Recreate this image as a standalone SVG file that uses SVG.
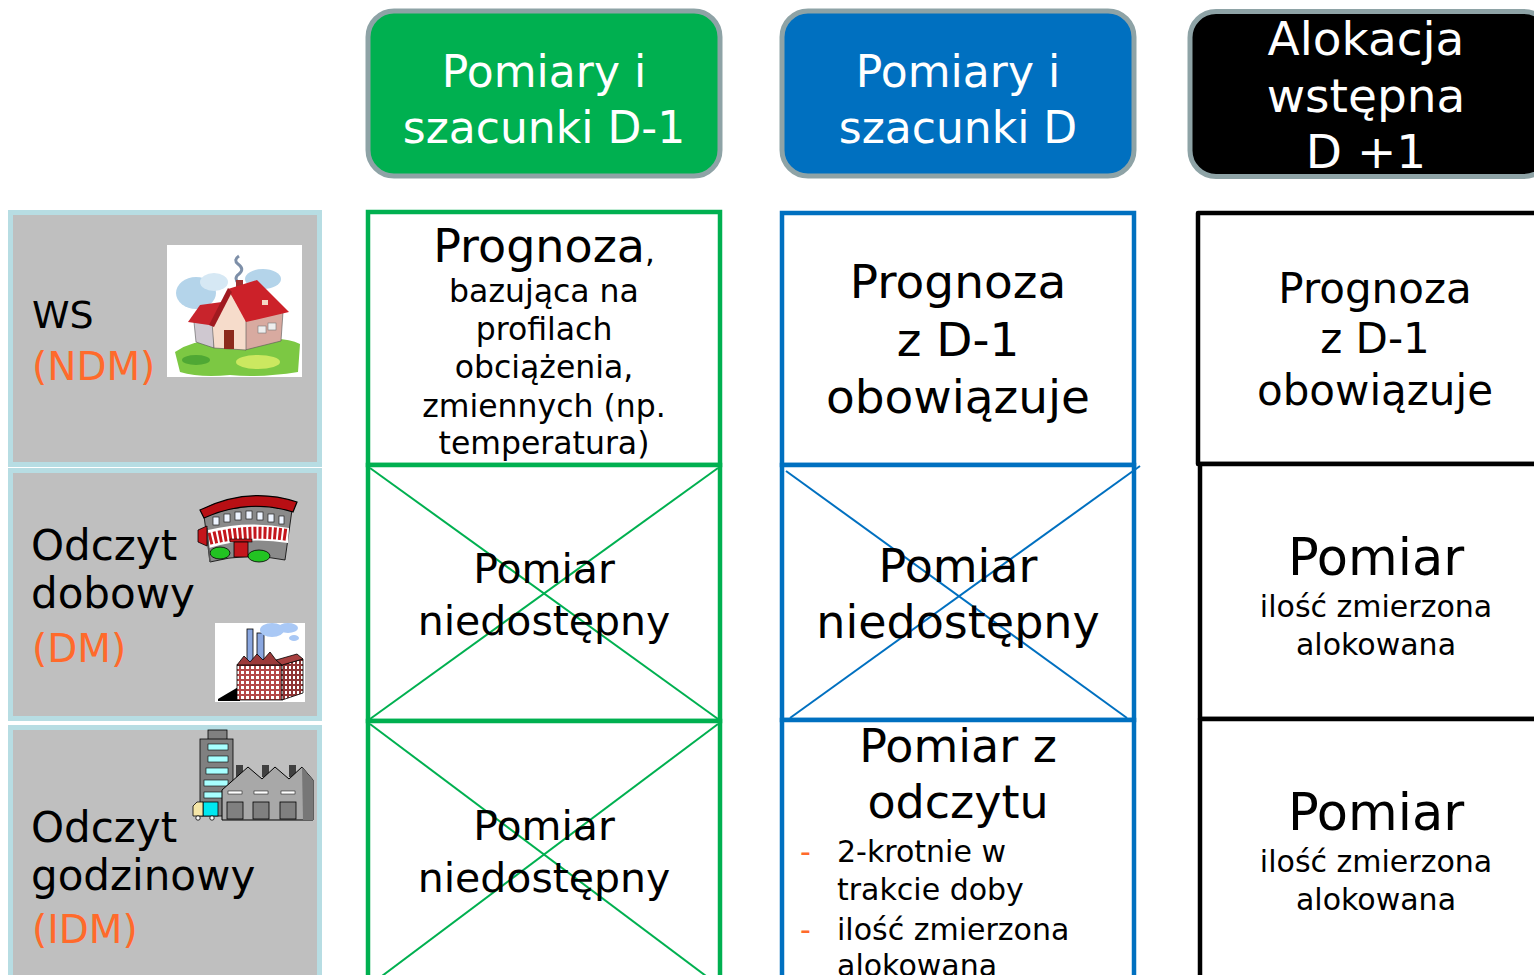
<svg xmlns="http://www.w3.org/2000/svg" width="1534" height="975" viewBox="0 0 1534 975">
<defs>
<style>
text{font-family:"DejaVu Sans","Liberation Sans",sans-serif;fill:#000}
.c{text-anchor:middle}
.w{fill:#fff}
.or{fill:#ff6a2b}
.hdr{stroke:#8ea3a6;stroke-width:5}
.lbl{fill:#bfbfbf;stroke:#b7dde3;stroke-width:5}
.gc{fill:#fff;stroke:#00b050;stroke-width:4.5}
.bc{fill:#fff;stroke:#0070c0;stroke-width:4.5}
.kc{fill:#fff;stroke:#000;stroke-width:4.5;stroke-linejoin:round}
.gx{stroke:#00b050;stroke-width:2;fill:none}
.bx{stroke:#0070c0;stroke-width:2;fill:none}
.ol{stroke:#000;stroke-width:0.8}
</style>
<pattern id="win" width="5" height="5" patternUnits="userSpaceOnUse"><rect width="5" height="5" fill="#b54848"/><rect x="1" y="1" width="3" height="3" fill="#fff"/></pattern>
<pattern id="win2" width="4" height="5" patternUnits="userSpaceOnUse"><rect width="4" height="5" fill="#8f3434"/><rect x="1" y="1" width="2" height="3" fill="#fff"/></pattern>
</defs>
<rect width="1534" height="975" fill="#fff"/>

<!-- headers -->
<g id="hdr-d1">
<rect x="368" y="11" width="352" height="165" rx="26" fill="#00b050" class="hdr"/>
<text class="c w" x="544" y="87" font-size="44">Pomiary i</text>
<text class="c w" x="544" y="143" font-size="44">szacunki D-1</text>
</g>
<g id="hdr-d">
<rect x="782" y="11" width="352" height="165" rx="26" fill="#0070c0" class="hdr"/>
<text class="c w" x="958" y="87" font-size="44">Pomiary i</text>
<text class="c w" x="958" y="143" font-size="44">szacunki D</text>
</g>
<g id="hdr-d1plus">
<rect x="1190" y="11.5" width="360" height="165" rx="26" fill="#000" class="hdr"/>
<text class="c w" x="1366" y="55" font-size="47">Alokacja</text>
<text class="c w" x="1366" y="112" font-size="47">wstępna</text>
<text class="c w" x="1366" y="168" font-size="47">D +1</text>
</g>

<!-- row labels -->
<g id="lbl-ndm">
<rect x="10.5" y="212.5" width="309" height="252" class="lbl"/>
<text x="32" y="328" font-size="38">WS</text>
<text class="or" x="32" y="380" font-size="39">(NDM)</text>
<g id="icon-house">
<rect x="167" y="245" width="135" height="132" fill="#fff"/>
<ellipse cx="196" cy="293" rx="20" ry="16" fill="#b4d4ea"/>
<ellipse cx="214" cy="282" rx="14" ry="9" fill="#d6e8f4"/>
<ellipse cx="263" cy="279" rx="18" ry="10" fill="#b4d4ea"/>
<path d="M239 284 q-6 -6 0 -10 q6 -5 -1 -10 q-5 -4 1 -8" stroke="#7d8fa8" stroke-width="3" fill="none"/>
<path d="M175 352 Q200 334 240 344 Q280 334 300 344 L298 372 Q260 378 230 375 Q200 378 180 372 Z" fill="#7cc843"/>
<ellipse cx="258" cy="362" rx="22" ry="7" fill="#cbe860"/>
<ellipse cx="196" cy="360" rx="14" ry="5" fill="#4fa834"/>
<rect x="236" y="280" width="7" height="14" fill="#a33030"/>
<polygon points="194,322 214,324 214,348 196,342" fill="#cfc8d0" stroke="#555" stroke-width="0.6"/>
<polygon points="188,322 200,305 222,302 216,326" fill="#c8242c"/>
<polygon points="245,320 283,312 281,341 245,350" fill="#d8aaa0" stroke="#555" stroke-width="0.6"/>
<polygon points="212,322 230,292 246,318 246,350 214,348" fill="#f6dccb" stroke="#555" stroke-width="0.6"/>
<polygon points="228,289 257,280 289,312 246,322" fill="#cc2129"/>
<polygon points="209,325 228,288 232,292 214,327" fill="#a01a20"/>
<rect x="224" y="330" width="10" height="19" fill="#8c2a1c"/>
<rect x="258" y="326" width="8" height="7" fill="#eee" stroke="#777" stroke-width="0.6"/>
<rect x="268" y="323" width="8" height="7" fill="#eee" stroke="#777" stroke-width="0.6"/>
<rect x="262" y="300" width="6" height="5" fill="#f3d7c4"/>
</g>
</g>

<g id="lbl-dm">
<rect x="10.5" y="470.5" width="309" height="248" class="lbl"/>
<text x="31" y="560" font-size="42">Odczyt</text>
<text x="31" y="608" font-size="42">dobowy</text>
<text class="or" x="32" y="662" font-size="39">(DM)</text>
<g id="icon-school">
<path d="M204 516 Q248 500 292 510 L285 560 Q248 552 210 562 Z" fill="#8a8a8a" class="ol"/>
<path d="M200 510 Q248 486 297 502 L293 512 Q248 498 204 518 Z" fill="#b80f14" stroke="#000" stroke-width="1.2"/>
<g fill="#eef4ff" stroke="#222" stroke-width="0.7">
<rect x="213" y="517" width="6" height="8"/><rect x="224" y="514" width="6" height="8"/><rect x="235" y="512" width="6" height="8"/>
<rect x="246" y="511" width="6" height="8"/><rect x="257" y="512" width="6" height="8"/><rect x="268" y="514" width="6" height="8"/><rect x="279" y="516" width="5" height="8"/>
</g>
<path d="M208 530 Q248 520 289 528 L288 543 Q248 536 209 548 Z" fill="#fff"/>
<path d="M209 539 Q248 529 288 535" stroke="#c4161c" stroke-width="12" stroke-dasharray="3 2" fill="none"/>
<rect x="230" y="539" width="22" height="3" fill="#c4161c" stroke="#000" stroke-width="0.6"/>
<rect x="234" y="542" width="14" height="15" fill="#c4161c" class="ol"/>
<ellipse cx="220" cy="553" rx="10" ry="6" fill="#22c322" class="ol"/>
<ellipse cx="259" cy="556" rx="11" ry="6" fill="#22c322" class="ol"/>
<line x1="207" y1="528" x2="210" y2="562" stroke="#555" stroke-width="1.5"/>
<path d="M198 530 L207 526 L207 546 L198 542 Z" fill="#c4161c" class="ol"/>
</g>
<g id="icon-factory">
<rect x="215" y="623" width="90" height="79" fill="#fff"/>
<rect x="247" y="629" width="6" height="34" fill="#8aa7e0" class="ol"/>
<rect x="257" y="633" width="7" height="30" fill="#8aa7e0" class="ol"/>
<ellipse cx="272" cy="630" rx="12" ry="7" fill="#a9c8f5"/>
<ellipse cx="288" cy="628" rx="10" ry="5" fill="#a9c8f5"/>
<ellipse cx="294" cy="638" rx="5" ry="3" fill="#a9c8f5"/>
<path d="M218 699 L240 686 L240 701 L218 701 Z" fill="#000"/>
<rect x="237" y="665" width="45" height="35" fill="url(#win)" class="ol"/>
<path d="M237 665 L244 656 L250 662 L257 654 L263 660 L270 652 L276 660 L282 665 Z" fill="#9c3a3a" class="ol"/>
<polygon points="282,665 303,659 303,693 282,700" fill="url(#win2)" class="ol"/>
<polygon points="276,660 297,654 303,659 282,665" fill="#a84040" class="ol"/>
</g>
</g>

<g id="lbl-idm">
<rect x="10.5" y="727.5" width="309" height="260" class="lbl"/>
<text x="31" y="842" font-size="42">Odczyt</text>
<text x="31" y="890" font-size="42">godzinowy</text>
<text class="or" x="32" y="943" font-size="39">(IDM)</text>
<g id="icon-industry">
<rect x="208" y="730" width="19" height="10" fill="#808080" class="ol"/>
<rect x="200" y="739" width="33" height="77" fill="#808080" class="ol"/>
<g fill="#a8ffff" stroke="#000" stroke-width="0.6">
<rect x="208" y="744" width="20" height="6"/><rect x="208" y="756" width="20" height="6"/><rect x="206" y="768" width="22" height="6"/><rect x="204" y="780" width="24" height="6"/><rect x="204" y="792" width="24" height="6"/>
</g>
<rect x="236" y="765" width="7" height="12" fill="#404040"/>
<rect x="262" y="765" width="7" height="12" fill="#404040"/>
<rect x="289" y="765" width="7" height="12" fill="#404040"/>
<path d="M222 820 L222 790 L248 767 L262 779 L275 767 L289 779 L302 767 L313 780 L313 820 Z" fill="#a8a8a8" stroke="#000" stroke-width="1"/>
<path d="M302 767 L313 780 L313 820 L303 820 Z" fill="#777"/>
<g fill="#fff" stroke="#000" stroke-width="0.5">
<rect x="228" y="791" width="14" height="3"/><rect x="254" y="791" width="14" height="3"/><rect x="281" y="791" width="14" height="3"/>
</g>
<g fill="#808080" stroke="#000" stroke-width="0.8">
<rect x="227" y="802" width="16" height="17"/><rect x="253" y="802" width="16" height="17"/><rect x="280" y="802" width="16" height="17"/>
</g>
<rect x="203" y="802" width="15" height="14" fill="#00e8f0" class="ol"/>
<path d="M193 816 L193 806 L197 802 L203 802 L203 816 Z" fill="#f5e6a8" class="ol"/>
<circle cx="198" cy="818" r="2.2" fill="#fff" class="ol"/>
<circle cx="212" cy="818" r="2.2" fill="#fff" class="ol"/>
</g>
</g>

<!-- column D-1 (green) -->
<g id="d1-ndm">
<rect x="368" y="212" width="352" height="253" class="gc"/>
<text class="c" x="544" y="262" font-size="46">Prognoza<tspan font-size="31">,</tspan></text>
<text class="c" x="544" y="302" font-size="31.5">bazująca na</text>
<text class="c" x="544" y="340" font-size="31.5">profilach</text>
<text class="c" x="544" y="378" font-size="31.5">obciążenia,</text>
<text class="c" x="544" y="417" font-size="31.5">zmiennych (np.</text>
<text class="c" x="544" y="454" font-size="31.5">temperatura)</text>
</g>
<g id="d1-dm">
<rect x="368" y="465" width="352" height="256" class="gc"/>
<line x1="370" y1="468" x2="718" y2="719" class="gx"/>
<line x1="718" y1="468" x2="370" y2="719" class="gx"/>
<text class="c" x="544" y="583" font-size="41">Pomiar</text>
<text class="c" x="544" y="635" font-size="41">niedostępny</text>
</g>
<g id="d1-idm">
<rect x="368" y="721" width="352" height="270" class="gc"/>
<line x1="370" y1="724" x2="718" y2="985" class="gx"/>
<line x1="718" y1="724" x2="370" y2="985" class="gx"/>
<text class="c" x="544" y="840" font-size="41">Pomiar</text>
<text class="c" x="544" y="892" font-size="41">niedostępny</text>
</g>

<!-- column D (blue) -->
<g id="d-ndm">
<rect x="782" y="213" width="352" height="252" class="bc"/>
<text class="c" x="958" y="298" font-size="47">Prognoza</text>
<text class="c" x="958" y="356" font-size="47">z D-1</text>
<text class="c" x="958" y="413" font-size="47">obowiązuje</text>
</g>
<g id="d-dm">
<rect x="782" y="465" width="352" height="255" class="bc"/>
<line x1="786" y1="471" x2="1127" y2="718" class="bx"/>
<line x1="1140" y1="466" x2="790" y2="718" class="bx"/>
<text class="c" x="958" y="582" font-size="46">Pomiar</text>
<text class="c" x="958" y="638" font-size="46">niedostępny</text>
</g>
<g id="d-idm">
<rect x="782" y="720" width="352" height="270" class="bc"/>
<text class="c" x="958" y="762" font-size="46">Pomiar z</text>
<text class="c" x="958" y="818" font-size="46">odczytu</text>
<text class="or" x="800" y="862" font-size="30">-</text>
<text x="837" y="862" font-size="30">2-krotnie w</text>
<text x="837" y="900" font-size="30">trakcie doby</text>
<text class="or" x="800" y="940" font-size="30">-</text>
<text x="837" y="940" font-size="30">ilość zmierzona</text>
<text x="837" y="976" font-size="30">alokowana</text>
</g>

<!-- column D+1 (black) -->
<g id="d1plus-ndm">
<rect x="1198" y="213" width="350" height="251" class="kc"/>
<text class="c" x="1375" y="303" font-size="42">Prognoza</text>
<text class="c" x="1375" y="353" font-size="42">z D-1</text>
<text class="c" x="1375" y="405" font-size="42">obowiązuje</text>
</g>
<g id="d1plus-dm">
<rect x="1200" y="464" width="350" height="255" class="kc"/>
<text class="c" x="1376" y="575" font-size="51">Pomiar</text>
<text class="c" x="1376" y="617" font-size="30">ilość zmierzona</text>
<text class="c" x="1376" y="655" font-size="30">alokowana</text>
</g>
<g id="d1plus-idm">
<rect x="1200" y="719" width="350" height="270" class="kc"/>
<text class="c" x="1376" y="830" font-size="51">Pomiar</text>
<text class="c" x="1376" y="872" font-size="30">ilość zmierzona</text>
<text class="c" x="1376" y="910" font-size="30">alokowana</text>
</g>
</svg>
